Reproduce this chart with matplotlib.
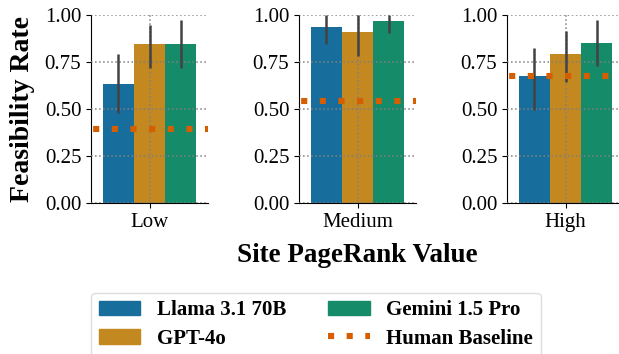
import matplotlib
matplotlib.use("Agg")
import matplotlib.pyplot as plt
import seaborn as sns
from matplotlib.patches import Patch
from matplotlib.lines import Line2D

categories = ["Low", "Medium", "High"]
models = ["Llama 3.1 70B", "GPT-4o", "Gemini 1.5 Pro"]
values = {
    "Llama 3.1 70B": [0.633, 0.936, 0.676],
    "GPT-4o": [0.847, 0.910, 0.793],
    "Gemini 1.5 Pro": [0.847, 0.968, 0.851],
}
err_low = {
    "Llama 3.1 70B": [0.48, 0.844, 0.495],
    "GPT-4o": [0.72, 0.782, 0.642],
    "Gemini 1.5 Pro": [0.72, 0.906, 0.73],
}
err_high = {
    "Llama 3.1 70B": [0.793, 1.0, 0.826],
    "GPT-4o": [0.947, 1.0, 0.915],
    "Gemini 1.5 Pro": [0.972, 1.0, 0.973],
}
human_baseline = [0.394, 0.544, 0.676]
yticks = [0.0, 0.25, 0.5, 0.75, 1.0]

plt.rcParams['font.family'] = ['Liberation Serif', 'DejaVu Serif']

base = sns.color_palette("colorblind")
colors = [sns.desaturate(base[0], 0.75), sns.desaturate(base[1], 0.75), sns.desaturate(base[2], 0.75)]
human_color = base[3]
hb_style = (2.7, (1, 2.05))

W, H = 619, 354
fig = plt.figure(figsize=(W / 100, H / 100), dpi=100)

lefts = [91, 299, 507]
aw = 117
top, bottom = 15, 203
bw = 0.8 / 3
for i, cat in enumerate(categories):
    ax = fig.add_axes([lefts[i] / W, 1 - bottom / H, aw / W, (bottom - top) / H])
    for j, m in enumerate(models):
        x = -0.4 + bw / 2 + j * bw
        ax.bar(x, values[m][i], width=bw, color=colors[j], zorder=1)
        ax.vlines(x, err_low[m][i], err_high[m][i], color="#424242", lw=1.8, zorder=3)
    ax.axhline(human_baseline[i], color=human_color, lw=4.4, linestyle=hb_style, zorder=4, clip_on=False)
    ax.set_xlim(-0.5, 0.5)
    ax.set_ylim(0, 1)
    ax.set_xticks([0])
    ax.set_xticklabels([cat])
    ax.set_yticks(yticks)
    ax.set_yticklabels([f"{t:.2f}" for t in yticks])
    ax.tick_params(labelsize=15)
    ax.grid(True, color="gray", linestyle=":", lw=1.1, zorder=2)
    ax.set_axisbelow(False)
    for s in ["top", "right"]:
        ax.spines[s].set_visible(False)
    if i == 0:
        ax.set_ylabel("Feasibility Rate", fontsize=20, fontweight="bold", labelpad=7)

fig.text(357 / W, 1 - 255 / H, "Site PageRank Value", ha="center", va="center", fontsize=19.5, fontweight="bold")

handles = [
    Patch(color=colors[0], label=models[0]),
    Patch(color=colors[1], label=models[1]),
    Patch(color=colors[2], label=models[2]),
    Line2D([0], [0], color=human_color, lw=4.4, linestyle=(0, (1, 2.05)), label="Human Baseline"),
]
fig.legend(handles=handles, ncol=2, loc="upper center", bbox_to_anchor=(316 / W, 1 - 293 / H),
           prop={"weight": "bold", "size": 15}, handlelength=2.0, handleheight=0.72,
           handletextpad=0.8, columnspacing=2.0, frameon=True, edgecolor="#dddddd", framealpha=1.0,
           labelspacing=0.4, borderpad=0.35, borderaxespad=0)

fig.savefig("out.png", dpi=100)
